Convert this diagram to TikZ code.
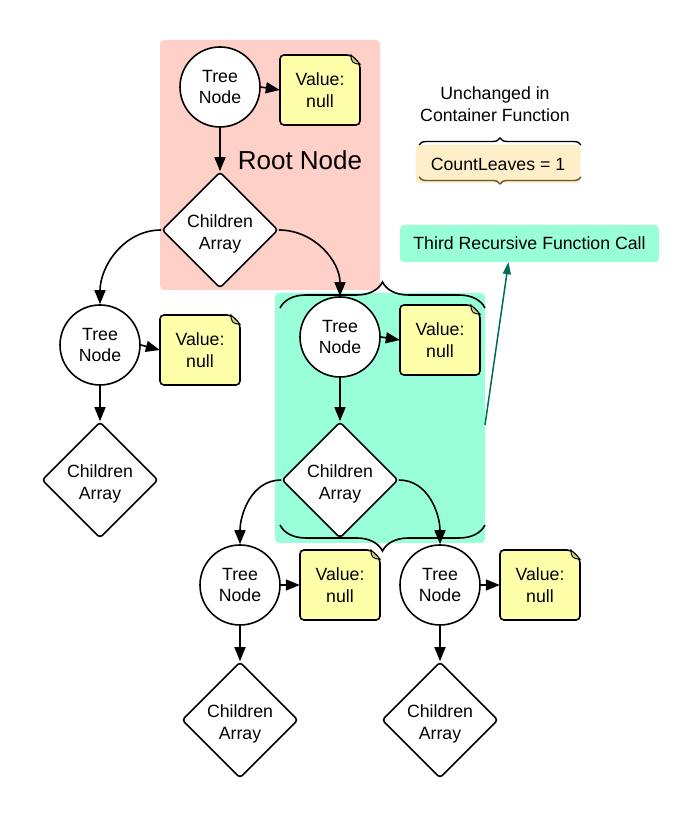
\documentclass[tikz,border=0pt]{standalone}
\usepackage{fontspec}
\setmainfont{Liberation Sans}
\usepackage{tikz}
\usetikzlibrary{arrows.meta, shapes.geometric, decorations.pathreplacing}
\definecolor{rootpink}{RGB}{255,208,200}
\definecolor{callgreen}{RGB}{153,255,216}
\definecolor{noteyellow}{RGB}{255,255,170}
\definecolor{foldcol}{RGB}{214,214,128}
\definecolor{countcream}{RGB}{255,239,200}
\definecolor{bracebrown}{RGB}{105,85,45}
\definecolor{calldark}{RGB}{0,105,90}

% value note with folded corner: name, x, y
\newcommand{\valnote}[3]{%
  \begin{scope}[shift={(#2,#3)}]
    \draw[notebody] (-40,-35) -- (40,-35) -- (40,26) -- (31,35) -- (-40,35) -- cycle;
    \draw[fill=foldcol, line width=1pt] (31,35) .. controls (31,28) and (33,26) .. (40,26) -- cycle;
  \end{scope}
  \node[minimum width=80pt, minimum height=70pt, inner sep=0pt] (#1) at (#2,#3) {Value:\\null};}

\begin{document}
\begin{tikzpicture}[x=1pt, y=1pt,
  every node/.style={font=\fontsize{17.7}{21.5}\selectfont, align=center},
  treenode/.style={circle, draw, line width=1.6pt, fill=white, minimum size=80pt, inner sep=0pt},
  notebody/.style={draw, line width=1.6pt, fill=noteyellow, rounded corners=4pt},
  arrnode/.style={diamond, draw, line width=1.6pt, fill=white, minimum width=116pt,
    minimum height=116pt, inner sep=0pt, rounded corners=3pt},
  arrtext/.style={yshift=-4pt},
  link/.style={-{Triangle[length=14pt, width=11pt]}, line width=1.6pt},
  bigbrace/.style={decorate, decoration={brace, amplitude=26pt}, line width=1.6pt},
  smallbrace/.style={decorate, decoration={brace, amplitude=7pt}, line width=1.4pt}]
  \useasboundingbox (0,0) rectangle (700,820);

  % Fundos
  \fill[rootpink, rounded corners=4pt] (160,530) rectangle (380,780);
  \fill[callgreen, rounded corners=4pt] (275,277) rectangle (485,527);

  % Chaves da chamada recursiva
  \draw[bigbrace] (280,512) -- (485,512);
  \draw[bigbrace] (485,295) -- (280,295);

  % Raiz
  \node[treenode] (rootnode) at (220,733) {Tree\\Node};
  \valnote{rootval}{320}{730}
  \node[arrnode, label={[arrtext]center:{Children\\Array}}] (rootarr) at (220,590) {};
  \node[font=\fontsize{26}{30}\selectfont] (rootlabel) at (300,660) {Root Node};

  % Filho esquerdo
  \node[treenode] (leftnode) at (100,475) {Tree\\Node};
  \valnote{leftval}{200}{470}
  \node[arrnode, label={[arrtext]center:{Children\\Array}}] (leftarr) at (100,340) {};

  % Filho do meio
  \node[treenode] (midnode) at (340,483) {Tree\\Node};
  \valnote{midval}{440}{480}
  \node[arrnode, label={[arrtext]center:{Children\\Array}}] (midarr) at (340,340) {};

  % Netos
  \node[treenode] (botlnode) at (240,235) {Tree\\Node};
  \valnote{botlval}{340}{235}
  \node[arrnode, label={[arrtext]center:{Children\\Array}}] (botlarr) at (240,100) {};
  \node[treenode] (botrnode) at (440,235) {Tree\\Node};
  \valnote{botrval}{540}{235}
  \node[arrnode, label={[arrtext]center:{Children\\Array}}] (botrarr) at (440,100) {};

  % Ligacoes
  \foreach \t in {root, left, mid, botl, botr} {
    \draw[link] (\t node.east) -- (\t val.west);
    \draw[link] (\t node.south) -- (\t arr.north);
  }
  \draw[link] (rootarr.west) to[out=180, in=90] (leftnode.north);
  \draw[link] (rootarr.east) to[out=0, in=90] (midnode.north);
  \draw[link] (midarr.west) to[out=180, in=90] (botlnode.north);
  \draw[link] (midarr.east) to[out=0, in=90] (botrnode.north);

  % Contador
  \node (unchanged) at (495,716) {Unchanged in\\Container Function};
  \node[fill=countcream, rounded corners=4pt, minimum width=165pt, minimum height=38pt] (countbox) at (498,656) {CountLeaves = 1};
  \draw[smallbrace] (419,675) -- (581,675);
  \draw[smallbrace, bracebrown] (581,643) -- (419,643);

  % Terceira chamada
  \node[fill=callgreen, rounded corners=4pt, minimum width=259pt, minimum height=37pt] (thirdcall) at (529.5,576.5) {Third Recursive Function Call};
  \coordinate (callfrom) at (485,395);
  \draw[-{Triangle[length=12pt, width=8pt]}, line width=1.5pt, calldark] (callfrom) -- ([xshift=-21pt]thirdcall.south);
\end{tikzpicture}
\end{document}
